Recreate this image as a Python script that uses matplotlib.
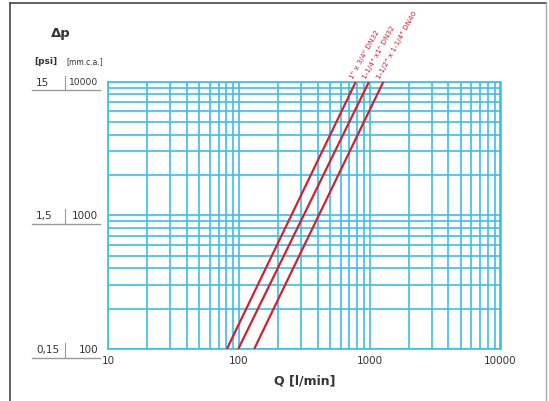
import matplotlib
matplotlib.use('Agg')
import matplotlib.pyplot as plt
import matplotlib.transforms as mtransforms
from matplotlib.lines import Line2D

# pressure drop curves: flow Q [l/min] at dp = 100 and dp = 10000 mm c.a.
dp_ends = [100, 10000]
curve_labels = ['1" x 3/4" DN32', '1-1/4" x1" DN32', '1-1/2" x 1-1/4" DN40']
curve_q = [[81, 785], [99, 990], [131, 1275]]

x_ticks = [10, 100, 1000, 10000]
y_ticks = [100, 1000, 10000]
psi_labels = ['0,15', '1,5', '15']
mm_labels = ['100', '1000', '10000']

GRID = '#3dbdea'
RED = '#d4202c'
TXT = '#333333'

fig = plt.figure(figsize=(5.49, 4.02), dpi=100)
ax = fig.add_axes([108 / 549, 1 - 350 / 402, 392.5 / 549, 267.5 / 402])
ax.set_xscale('log')
ax.set_yscale('log')
ax.set_xlim(10, 10000)
ax.set_ylim(100, 10000)

ax.grid(True, which='both', color=GRID, linewidth=1.2)
for s in ax.spines.values():
    s.set_color(GRID)
    s.set_linewidth(1.2)
ax.tick_params(which='both', length=0)
ax.set_xticks(x_ticks)
ax.set_xticklabels([str(v) for v in x_ticks], fontsize=7.5, color=TXT)
ax.tick_params(axis='x', pad=4)
ax.set_yticks(y_ticks)
ax.set_yticklabels([])
ax.minorticks_on()
ax.tick_params(which='minor', length=0)
ax.xaxis.set_minor_formatter(plt.NullFormatter())
ax.yaxis.set_minor_formatter(plt.NullFormatter())

# the curves
for lab, q in zip(curve_labels, curve_q):
    ax.plot(q, dp_ends, color=RED, linewidth=1.6, solid_capstyle='butt', zorder=3)
    tr = mtransforms.offset_copy(ax.transData, fig=fig, x=-2, y=3, units='dots')
    ax.text(q[1], dp_ends[1], lab, transform=tr, rotation=61, rotation_mode='anchor',
            ha='left', va='bottom', fontsize=5.2, color=RED, clip_on=False)

# left double scale
bt = mtransforms.blended_transform_factory(fig.transFigure, ax.transData)
for p, m, v in zip(psi_labels, mm_labels, y_ticks):
    fig.text(36 / 549, v, p, transform=bt, ha='left', va='center', fontsize=7.5, color=TXT)
    fs = 6.6 if len(m) > 4 else 7.5
    fig.text(98 / 549, v, m, transform=bt, ha='right', va='center', fontsize=fs, color=TXT)
    ul = mtransforms.offset_copy(bt, fig=fig, y=-8.5, units='dots')
    fig.add_artist(Line2D([32 / 549, 100 / 549], [v, v], transform=ul,
                          color='#999999', linewidth=1.0))
    # small separator between the two columns
    x0, y0 = mtransforms.offset_copy(bt, fig=fig, y=-8.5, units='dots').transform((65 / 549, v))
    x1, y1 = mtransforms.offset_copy(bt, fig=fig, y=6, units='dots').transform((65 / 549, v))
    fig.add_artist(Line2D([x0, x1], [y0, y1], transform=None,
                          color='#999999', linewidth=0.8))

fig.text(61 / 549, 1 - 33 / 402, 'Δp', ha='center', va='center', fontsize=9.5,
         fontweight='bold', color=TXT)
fig.text(46 / 549, 1 - 62 / 402, '[psi]', ha='center', va='center', fontsize=6.5,
         fontweight='bold', color=TXT)
fig.text(85 / 549, 1 - 62 / 402, '[mm.c.a.]', ha='center', va='center', fontsize=5.5,
         color=TXT)
fig.text(305 / 549, 1 - 381 / 402, 'Q [l/min]', ha='center', va='center', fontsize=9,
         fontweight='bold', color=TXT)

# outer frame
frame = '#555555'
fig.add_artist(Line2D([10 / 549, 10 / 549], [0, 1 - 4 / 402], transform=fig.transFigure,
                      color=frame, linewidth=1.3))
fig.add_artist(Line2D([10 / 549, 546 / 549], [1 - 4 / 402, 1 - 4 / 402],
                      transform=fig.transFigure, color=frame, linewidth=1.3))
fig.add_artist(Line2D([546 / 549, 546 / 549], [0, 1 - 4 / 402], transform=fig.transFigure,
                      color='#aaaaaa', linewidth=1.0))

fig.savefig('out.png', dpi=100)
